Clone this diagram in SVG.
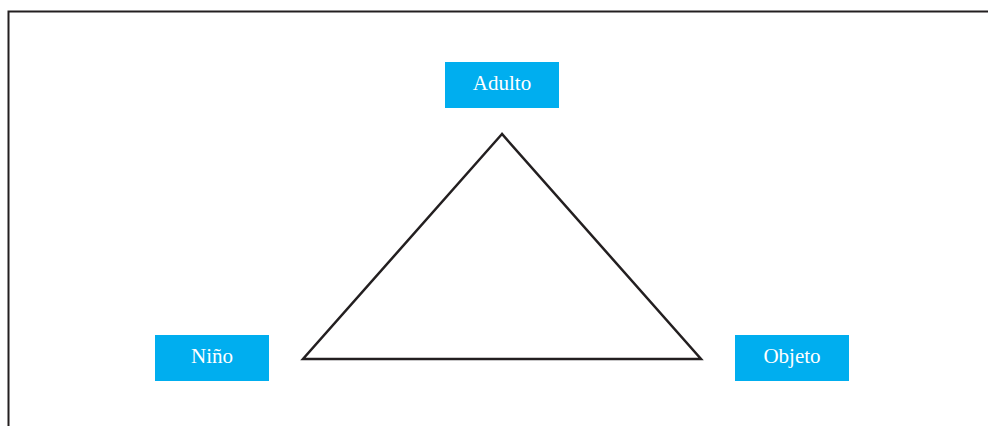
<svg xmlns="http://www.w3.org/2000/svg" width="988" height="426" viewBox="0 0 988 426">
<style>
.box{fill:#00aeef}
.lbl{font-family:"Liberation Serif",serif;font-size:21px;fill:#fff;text-anchor:middle}
.ln{fill:none;stroke:#231f20;stroke-width:2.5;stroke-linejoin:miter}
</style>
<rect width="988" height="426" fill="#fff"/>
<path d="M8.5,430 V11.5 H992" fill="none" stroke="#231f20" stroke-width="2"/>
<g id="connectors">
<polygon class="ln" points="502,134 303,359 701,359"/>
</g>
<g id="adulto">
<rect class="box" x="445" y="62" width="114" height="46"/>
<text class="lbl" x="502" y="90">Adulto</text>
</g>
<g id="nino">
<rect class="box" x="155" y="335" width="114" height="46"/>
<text class="lbl" x="212" y="363">Niño</text>
</g>
<g id="objeto">
<rect class="box" x="735" y="335" width="114" height="46"/>
<text class="lbl" x="792" y="363">Objeto</text>
</g>
</svg>
